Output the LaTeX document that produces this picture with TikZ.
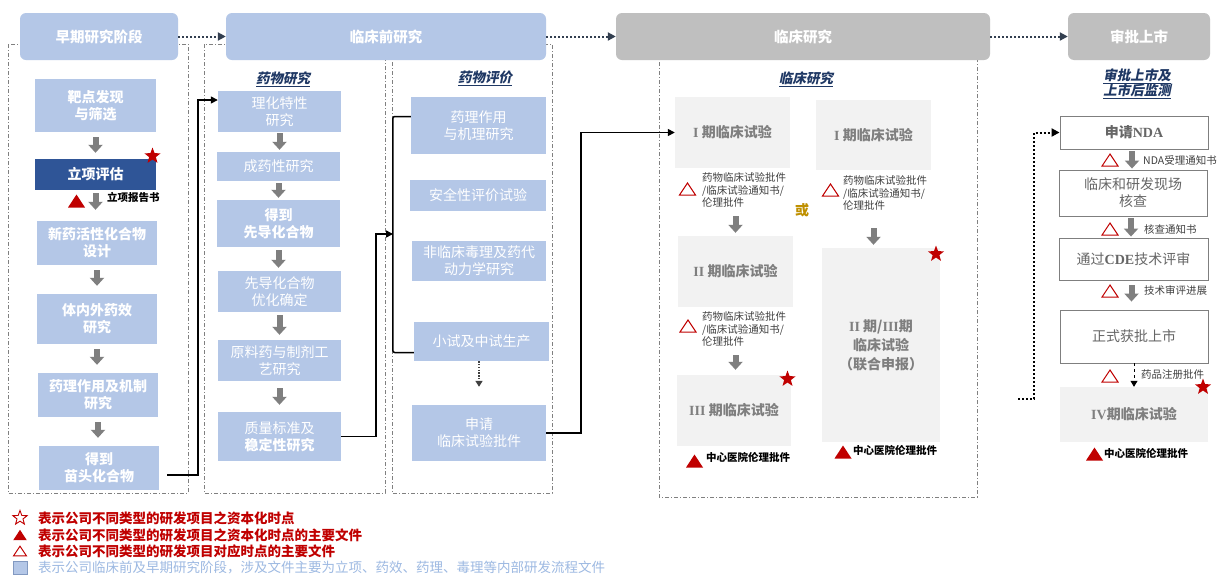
\documentclass[tikz,border=0pt]{standalone}
\usepackage{fontspec}
\setmainfont{Noto Sans CJK SC}
\newfontfamily\serif{Liberation Serif}
\newfontfamily\cjkit[FakeSlant=0.2]{Noto Sans CJK SC}
\usetikzlibrary{arrows.meta,shapes.geometric,calc}
\definecolor{lb}{HTML}{B4C7E7}
\definecolor{db}{HTML}{2F5597}
\definecolor{hg}{HTML}{BFBFBF}
\definecolor{cf}{HTML}{F2F2F2}
\definecolor{ct}{HTML}{7F7F7F}
\definecolor{at}{HTML}{666666}
\definecolor{rd}{HTML}{C00000}
\definecolor{tb}{HTML}{1F3864}
\definecolor{hd}{HTML}{333F50}
\definecolor{gd}{HTML}{BF9000}
\definecolor{ga}{HTML}{7F7F7F}
\definecolor{fr}{HTML}{808080}
\definecolor{lg}{HTML}{9DB9E2}
\definecolor{dt}{HTML}{404040}
\tikzset{
  hdr/.style={rounded corners=6pt, text=white, inner sep=0, font=\fontsize{14.5}{17}\selectfont\bfseries},
  bbox/.style={fill=lb, text=white, align=center, inner sep=0, font=\fontsize{14}{17}\selectfont},
  cbox/.style={fill=cf, text=ct, align=center, inner sep=0, font=\fontsize{14}{19}\selectfont\bfseries},
  abox/.style={fill=white, draw=ga, line width=0.9pt, text=at, align=center, inner sep=0, font=\fontsize{14}{17}\selectfont\bfseries},
  frame/.style={draw=fr, line width=0.6pt, dash pattern=on 4pt off 2pt on 1pt off 2pt},
  garr/.style={draw=ga, line width=6pt, -{Triangle[length=8pt,width=14pt]}},
  conn/.style={draw=black, line width=1.5pt, -{Triangle[length=7pt,width=7pt]}},
  hdot/.style={draw=hd, line width=2pt, dash pattern=on 2pt off 2pt, -{Triangle[length=8pt,width=8pt]}},
  gdot/.style={draw=dt, line width=1.4pt, dash pattern=on 1.4pt off 1.4pt, -{Triangle[length=6pt,width=7pt]}},
  adot/.style={draw=black, line width=2pt, dash pattern=on 2pt off 2pt, -{Triangle[length=8pt,width=8pt]}},
  doc/.style={anchor=west, align=left, inner sep=0, text=dt, font=\fontsize{10.5}{12.8}\selectfont},
  fdoc/.style={anchor=west, inner sep=0, text=black, font=\fontsize{10.5}{12}\selectfont\bfseries},
  ttl/.style={text=tb, align=center, inner sep=0, font=\cjkit\fontsize{13.5}{15.5}\selectfont\bfseries},
  rstar/.style={star, star points=5, star point ratio=2.4, fill=rd, inner sep=0, minimum size=17pt},
  leg/.style={anchor=west, inner sep=0, text=rd, font=\fontsize{13.5}{16}\selectfont\bfseries},
  ftri/.pic={\fill[rd] (-8.5,6.5) -- (8.5,6.5) -- (0,-6.5) -- cycle;},
  otri/.pic={\draw[rd, line width=1pt] (-8,6) -- (8,6) -- (0,-6) -- cycle;},
}
\begin{document}
\begin{tikzpicture}[x=1pt,y=-1pt]
\useasboundingbox[fill=white] (0,0) rectangle (1220,574);
% frames
\draw[frame] (8,44) rectangle (188,493);
\draw[frame] (204,44) rectangle (385,493);
\draw[frame] (392,44) rectangle (552,493);
\draw[frame] (659,44) rectangle (977,497);
% headers
\node[hdr, fill=lb, minimum width=158, minimum height=47] (h1) at (99,36.5) {早期研究阶段};
\node[hdr, fill=lb, minimum width=320, minimum height=47] (h2) at (386,36.5) {临床前研究};
\node[hdr, fill=hg, minimum width=374, minimum height=47] (h3) at (803,36.5) {临床研究};
\node[hdr, fill=hg, minimum width=142, minimum height=47] (h4) at (1139,36.5) {审批上市};
\draw[hdot] (h1.east) -- (h2.west);
\draw[hdot] (h2.east) -- (h3.west);
\draw[hdot] (h3.east) -- (h4.west);
% titles
\node[ttl] (t1) at (283,79) {\underline{药物研究}};
\node[ttl] (t2) at (485,78) {\underline{药物评价}};
\node[ttl] (t3) at (806,79) {\underline{临床研究}};
\node[ttl] (t4) at (1137,84) {\underline{审批上市及}\\\underline{上市后监测}};
% early column
\node[bbox, font=\fontsize{14}{17}\selectfont\bfseries, minimum width=121, minimum height=53] (e1) at (95.5,105.5) {靶点发现\\与筛选};
\node[bbox, fill=db, font=\fontsize{14}{17}\selectfont\bfseries, minimum width=121, minimum height=31] (e2) at (95.5,174.5) {立项评估};
\node[bbox, font=\fontsize{14}{17}\selectfont\bfseries, minimum width=120, minimum height=44] (e3) at (97,243) {新药活性化合物\\设计};
\node[bbox, font=\fontsize{14}{17}\selectfont\bfseries, minimum width=120, minimum height=50] (e4) at (97,319) {体内外药效\\研究};
\node[bbox, font=\fontsize{14}{17}\selectfont\bfseries, minimum width=120, minimum height=44] (e5) at (98,395) {药理作用及机制\\研究};
\node[bbox, font=\fontsize{14}{17}\selectfont\bfseries, minimum width=120, minimum height=44] (e6) at (99,468) {得到\\苗头化合物};
\draw[garr, shorten <=5pt, shorten >=6pt] (e1.south) -- (e1.south |- e2.north);
\draw[garr, shorten <=3pt, shorten >=11pt] (e2.south) -- (e2.south |- e3.north);
\draw[garr, shorten <=5pt, shorten >=8pt] (e3.south) -- (e3.south |- e4.north);
\draw[garr, shorten <=5pt, shorten >=8pt] (e4.south) -- (e4.south |- e5.north);
\draw[garr, shorten <=5pt, shorten >=8pt] (e5.south) -- (e5.south |- e6.north);
\node[rstar] (s1) at (152.5,156) {};
\pic at (76.5,201) {ftri};
\node[fdoc] (r1) at (107,197) {立项报告书};
% preclinical drug research
\node[bbox, minimum width=123, minimum height=41] (p1) at (279.5,111.5) {理化特性\\研究};
\node[bbox, minimum width=123, minimum height=29] (p2) at (278.5,166.5) {成药性研究};
\node[bbox, font=\fontsize{14}{17}\selectfont\bfseries, minimum width=123, minimum height=47] (p3) at (278.5,223.5) {得到\\先导化合物};
\node[bbox, minimum width=123, minimum height=41] (p4) at (279.5,291.5) {先导化合物\\优化确定};
\node[bbox, minimum width=123, minimum height=41] (p5) at (279.5,360.5) {原料药与制剂工\\艺研究};
\node[bbox, minimum width=123, minimum height=49] (p6) at (279.5,436.5) {质量标准及\\\textbf{稳定性研究}};
\draw[garr, shorten <=1pt, shorten >=2pt] (p1.south) -- (p1.south |- p2.north);
\draw[garr, shorten <=2pt, shorten >=2pt] (p2.south) -- (p2.south |- p3.north);
\draw[garr, shorten <=3pt, shorten >=3pt] (p3.south) -- (p3.south |- p4.north);
\draw[garr, shorten <=3pt, shorten >=5pt] (p4.south) -- (p4.south |- p5.north);
\draw[garr, shorten <=7pt, shorten >=7pt] (p5.south) -- (p5.south |- p6.north);
% drug evaluation
\node[bbox, minimum width=135, minimum height=57] (q1) at (478.5,125.5) {药理作用\\与机理研究};
\node[bbox, minimum width=136, minimum height=31] (q2) at (478,195.5) {安全性评价试验};
\node[bbox, minimum width=134, minimum height=40] (q3) at (479,261) {非临床毒理及药代\\动力学研究};
\node[bbox, minimum width=135, minimum height=39] (q4) at (481.5,341.5) {小试及中试生产};
\node[bbox, minimum width=134, minimum height=56] (q6) at (479,433) {申请\\临床试验批件};
\draw[line width=1.5pt, rounded corners=2pt] ([yshift=9pt]q1.west) -- ++(-18,0) |- ([yshift=-11pt]q4.west);
\draw[gdot, shorten >=18pt] (q6.north |- q4.south) -- (q6.north);
% connectors
\coordinate (brk) at (393,234);
\draw[conn] ([shift={(8pt,-7pt)}]e6.east) -- ++(31,0) |- ([yshift=11.5pt]p1.west);
\draw[conn] (p6.east) -- ++(35,0) |- (brk);
% clinical
\node[cbox, minimum width=115, minimum height=71] (c1) at (732.5,132.5) {{\serif I} 期临床试验};
\node[cbox, minimum width=115, minimum height=71] (c2) at (735.5,271.5) {{\serif II} 期临床试验};
\node[cbox, minimum width=114, minimum height=71] (c3) at (734,410.5) {{\serif III} 期临床试验};
\node[cbox, minimum width=115, minimum height=70] (d1) at (873.5,135) {{\serif I} 期临床试验};
\node[cbox, minimum width=118, minimum height=194] (d2) at (881,345) {{\serif II} 期/{\serif III}期\\临床试验\\（联合申报）};
\draw[conn] (q6.east) -- ++(35,0) |- (c1.west);
\draw[garr, shorten <=48pt, shorten >=3pt] (c2.north |- c1.south) -- (c2.north);
\draw[garr, shorten <=48pt, shorten >=5pt] (c2.south) -- (c2.south |- c3.north);
\draw[garr, shorten <=58pt, shorten >=3pt] (d1.south) -- (d1.south |- d2.north);
\pic at (687.5,189) {otri};
\node[doc] (o1) at (702,190) {药物临床试验批件\\/临床试验通知书/\\伦理批件};
\pic at (688,326) {otri};
\node[doc] (o2) at (702,329) {药物临床试验批件\\/临床试验通知书/\\伦理批件};
\pic at (830.5,190) {otri};
\node[doc] (o3) at (843,193) {药物临床试验批件\\/临床试验通知书/\\伦理批件};
\node[text=gd, inner sep=0, font=\fontsize{14}{16}\selectfont\bfseries] (or) at (802,210) {或};
\node[rstar] (s2) at (787.5,379) {};
\node[rstar] (s3) at (936,254) {};
\pic at (694.5,461) {ftri};
\node[fdoc] (f1) at (706,457) {中心医院伦理批件};
\pic at (843,452) {ftri};
\node[fdoc] (f2) at (853,450) {中心医院伦理批件};
% approval
\node[abox, minimum width=148, minimum height=33] (a1) at (1134,132.5) {申请{\serif NDA}};
\node[abox, font=\fontsize{14}{17}\selectfont, minimum width=148, minimum height=46] (a2) at (1133,193) {临床和研发现场\\核查};
\node[abox, font=\fontsize{14}{17}\selectfont, minimum width=149, minimum height=42] (a3) at (1133.5,259) {通过{\serif\bfseries CDE}技术评审};
\node[abox, font=\fontsize{14}{17}\selectfont, minimum width=148, minimum height=53] (a4) at (1134,336.5) {正式获批上市};
\node[cbox, minimum width=148, minimum height=55] (a5) at (1134,414.5) {{\serif IV}期临床试验};
\draw[garr, shorten <=2pt, shorten >=1pt] ([xshift=-2pt]a1.south) -- ([xshift=-2pt]a1.south |- a2.north);
\draw[garr, shorten <=2pt, shorten >=1pt] ([xshift=-2pt]a2.south) -- ([xshift=-2pt]a2.south |- a3.north);
\draw[garr, shorten <=5pt, shorten >=8pt] ([xshift=-2pt]a3.south) -- ([xshift=-2pt]a3.south |- a4.north);
\draw[draw=black, line width=0.8pt, dashed, -{Triangle[length=6pt,width=7pt]}] (a4.south) -- (a5.north);
\coordinate (dz) at (1018,399);
\draw[adot] (dz) -- ++(16,0) |- (a1.west);
\pic at (1110,160) {otri};
\node[doc] (n1) at (1143,160) {NDA受理通知书};
\pic at (1110,229) {otri};
\node[doc] (n2) at (1144,229) {核查通知书};
\pic at (1110,291) {otri};
\node[doc] (n3) at (1144,290) {技术审评进展};
\pic at (1110,376) {otri};
\node[doc] (n4) at (1141,375) {药品注册批件};
\node[rstar] (s4) at (1203,387) {};
\pic at (1094.5,454) {ftri};
\node[fdoc] (f3) at (1104,453) {中心医院伦理批件};
% legend
\node[star, star points=5, star point ratio=2.4, draw=rd, line width=0.9pt, inner sep=0, minimum size=15pt] (l1) at (20,518) {};
\pic[scale=0.8] at (20,535) {ftri};
\pic[scale=0.8] at (20,551) {otri};
\draw[fill=lb, draw=db!60, line width=0.8pt] (13,561) rectangle (27,574);
\node[leg] (g1) at (38,518) {表示公司不同类型的研发项目之资本化时点};
\node[leg] (g2) at (38,535) {表示公司不同类型的研发项目之资本化时点的主要文件};
\node[leg] (g3) at (38,551) {表示公司不同类型的研发项目对应时点的主要文件};
\node[leg, text=lg, font=\fontsize{13.5}{16}\selectfont] (g4) at (38,567) {表示公司临床前及早期研究阶段，涉及文件主要为立项、药效、药理、毒理等内部研发流程文件};
\end{tikzpicture}
\end{document}
